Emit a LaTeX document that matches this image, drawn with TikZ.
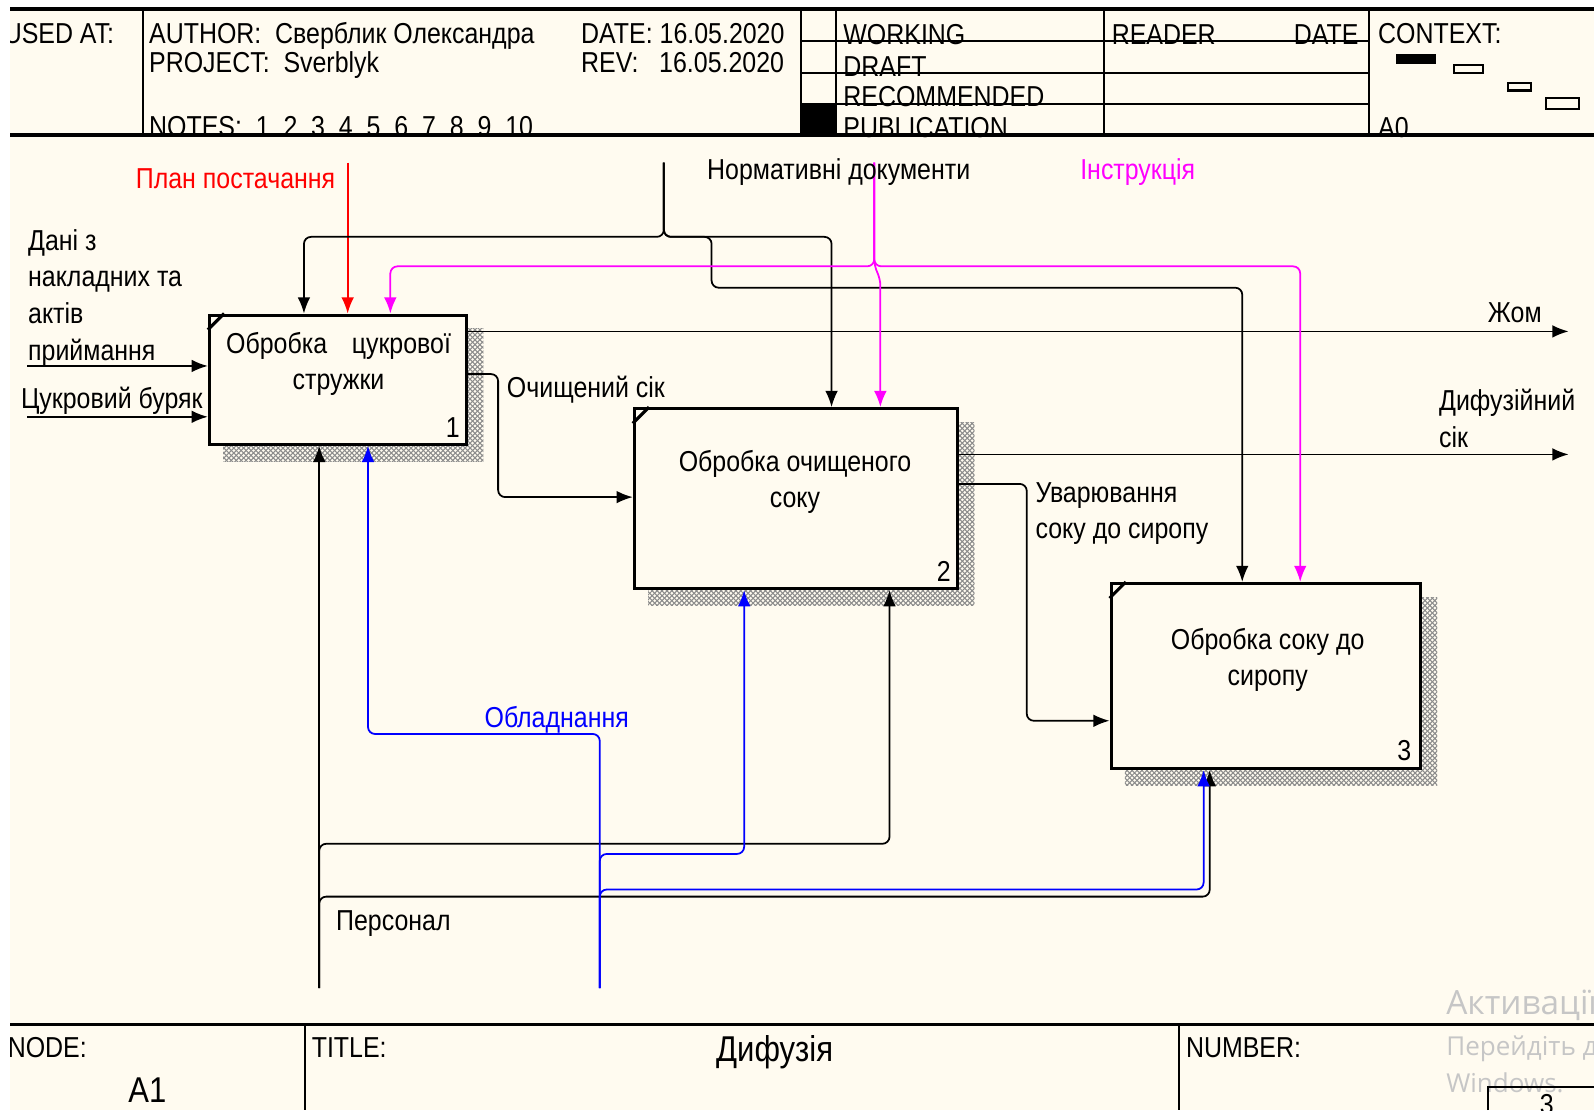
\documentclass[tikz,border=0pt]{standalone}
\usepackage{fontspec}
\setmainfont{Liberation Sans}[FakeStretch=0.865]
\newfontfamily\wmfont{Open Sans}
\usetikzlibrary{arrows.meta,patterns}
\definecolor{paper}{RGB}{255,251,240}
\definecolor{wmgray}{RGB}{198,198,198}
\definecolor{instrcol}{RGB}{255,0,255}
\definecolor{equipcol}{RGB}{0,0,255}
\definecolor{plancol}{RGB}{255,0,0}
\newlength\pxu \setlength\pxu{0.010166cm}
\newcommand\lbl{\fontsize{8.2pt}{10.4pt}\selectfont}
\newcommand\ttl{\fontsize{10.2pt}{12pt}\selectfont}
\pgfdeclarepatternformonly{finehatch}{\pgfqpoint{-0.2pt}{-0.2pt}}{\pgfqpoint{1.6pt}{1.6pt}}{\pgfqpoint{1.4pt}{1.4pt}}{%
  \pgfsetlinewidth{0.3pt}
  \pgfpathmoveto{\pgfqpoint{0pt}{0pt}}\pgfpathlineto{\pgfqpoint{1.4pt}{1.4pt}}
  \pgfpathmoveto{\pgfqpoint{0pt}{1.4pt}}\pgfpathlineto{\pgfqpoint{1.4pt}{0pt}}
  \pgfusepath{stroke}}
\pgfdeclarelayer{bg}
\pgfsetlayers{bg,main}

\begin{document}
\begin{tikzpicture}[x=0.010166cm,y=-0.010166cm,>={Latex[length=4.6pt,width=3.6pt]}]
  \tikzset{
    proc/.style={draw,line width=0.9pt,fill=paper,inner sep=0pt},
    flow/.style={line width=0.5pt,rounded corners=2pt,->},
    rule/.style={line width=0.6pt},
    lab/.style={font=\lbl,inner sep=0pt,anchor=base west},
    multi/.style={font=\lbl,inner sep=0pt,anchor=north west,align=left},
    shade/.style={pattern=finehatch,pattern color=black!45},
    wm/.style={font=\wmfont,text=wmgray,inner sep=0pt,anchor=base west}
  }
  \useasboundingbox (0,0) rectangle (1568,1092);
  \begin{pgfonlayer}{bg}
    \fill[white] (0,0) rectangle (1568,1092);
    \fill[paper] (10,8) rectangle (1568,1092);
  \end{pgfonlayer}

  % header
  \begin{scope}
    \clip (10,8) rectangle (1568,1092);
    \node[lab] (usedat) at (3,43) {USED AT:};
    \node[lab] (nodelbl) at (7,1040) {NODE:};
  \end{scope}
  \node[lab] (author) at (146,43) {AUTHOR:\ \ Сверблик Олександра};
  \node[lab] (project) at (146,71) {PROJECT:\ \ Sverblyk};
  \node[lab] (date) at (571,43) {DATE:\ 16.05.2020};
  \node[lab] (rev) at (571,71) {REV:\ \ \ 16.05.2020};
  \node[lab] (notes) at (146,134) {NOTES:\ \ 1\ \ 2\ \ 3\ \ 4\ \ 5\ \ 6\ \ 7\ \ 8\ \ 9\ \ 10};
  \node[lab] (working) at (829,44) {WORKING};
  \node[lab] (draft) at (829,75) {DRAFT};
  \node[lab] (recom) at (829,105) {RECOMMENDED};
  \node[lab] (public) at (829,135) {PUBLICATION};
  \node[lab] (reader) at (1093,44) {READER};
  \node[lab,anchor=base east] (rdate) at (1337,44) {DATE};
  \node[lab] (context) at (1355,43) {CONTEXT:};
  \node[lab] (azero) at (1355,135) {A0};
  \fill (1373,53) rectangle (1413,63);
  \draw[line width=0.6pt] (1430,64) rectangle (1459,72);
  \draw[line width=0.6pt] (1483,82) rectangle (1506,89);
  \draw[line width=0.6pt] (1521,96) rectangle (1553,107);
  \fill (788,102) rectangle (822,133);
  \draw[line width=1pt] (10,9) -- (1568,9);
  \draw[line width=1pt] (10,133) -- (1568,133);
  \foreach \xx in {141,788,822,1086,1347}
    \draw[rule] (\xx,9) -- (\xx,133);
  \foreach \yy in {40,72,102}
    \draw[rule] (788,\yy) -- (1347,\yy);

  % footer
  \draw[line width=1pt] (10,1008) -- (1568,1008);
  \draw[rule] (300,1008) -- (300,1092);
  \draw[rule] (1160,1008) -- (1160,1092);
  \node[lab] (titlelbl) at (306,1040) {TITLE:};
  \node[lab] (numlbl) at (1166,1040) {NUMBER:};
  \node[font=\ttl,inner sep=0pt,anchor=base] (nodeid) at (145,1085) {A1};
  \node[font=\ttl,inner sep=0pt,anchor=base] (title) at (762,1044) {Дифузія};

  % activities
  \node[proc,minimum width=253\pxu,minimum height=127\pxu] (b1) at (332.5,373.5) {};
  \node[proc,minimum width=318\pxu,minimum height=177\pxu] (b2) at (783,490.5) {};
  \node[proc,minimum width=304\pxu,minimum height=182\pxu] (b3) at (1245,665) {};
  \begin{pgfonlayer}{bg}
    \foreach \bx in {b1,b2,b3}
      \fill[shade] ([shift={(15,15)}]\bx.north west) rectangle ([shift={(15,15)}]\bx.south east);
  \end{pgfonlayer}
  \foreach \bx in {b1,b2,b3}
    \draw[line width=0.9pt] ([shift={(0,16)}]\bx.north west) -- ([shift={(16,0)}]\bx.north west);
  \node[font=\lbl,align=center,inner sep=0pt] (t1) at (333,358) {Обробка\hspace{7pt}цукрової\\стружки};
  \node[font=\lbl,align=center,inner sep=0pt] (t2) at (782,474) {Обробка очищеного\\соку};
  \node[font=\lbl,align=center,inner sep=0pt] (t3) at (1247,649) {Обробка соку до\\сиропу};
  \node[lab,anchor=base east] (n1) at (453,430) {1};
  \node[lab,anchor=base east] (n2) at (936,572) {2};
  \node[lab,anchor=base east] (n3) at (1389,748) {3};

  % inputs and outputs
  \coordinate (inA) at (27,360);
  \coordinate (inB) at (27,410);
  \coordinate (outA) at (1543,326);
  \coordinate (outB) at (1543,447);
  \draw[flow] (inA) -- (inA -| b1.west);
  \draw[flow] (inB) -- (inB -| b1.west);
  \draw[flow] (b1.east |- outA) -- (outA);
  \draw[flow] (b2.east |- outB) -- (outB);
  \draw[flow] (b1.east |- 0,368) -- (490,368) -- (490,489) -- (b2.west |- 0,489);
  \draw[flow] (b2.east |- 0,476) -- (1010,476) -- (1010,709) -- (b3.west |- 0,709);

  % controls
  \coordinate (plan) at (342,160);
  \coordinate (norm) at (653,160);
  \coordinate (instr) at (860,160);
  \draw[flow,plancol] (plan) -- (b1.north -| plan);
  \draw[flow] (norm) -- (653,233) -- (299,233) -- (b1.north -| 299,0);
  \draw[flow] (norm) -- (653,233) -- (818,233) -- (b2.north -| 818,0);
  \draw[flow] (norm) -- (653,233) -- (700,233) -- (700,283) -- (1222,283) -- (b3.north -| 1222,0);
  \draw[flow,instrcol] (instr) -- (860,262) -- (384,262) -- (b1.north -| 384,0);
  \draw[flow,instrcol] (instr) -- (860,262) -- (1279,262) -- (b3.north -| 1279,0);
  \draw[flow,instrcol] (instr) -- (860,262) -- (866,274) -- (b2.north -| 866,0);

  % mechanisms
  \coordinate (pers) at (314,972);
  \coordinate (equip) at (590,972);
  \draw[flow] (pers) -- (b1.south -| pers);
  \draw[flow] (pers) -- (314,830) -- (875,830) -- (b2.south -| 875,0);
  \draw[flow] (pers) -- (314,882) -- (1190,882) -- (b3.south -| 1190,0);
  \draw[flow,equipcol] (equip) -- (590,722) -- (362,722) -- (b1.south -| 362,0);
  \draw[flow,equipcol] (equip) -- (590,840) -- (732,840) -- (b2.south -| 732,0);
  \draw[flow,equipcol] (equip) -- (590,875) -- (1184,875) -- (b3.south -| 1184,0);

  % arrow labels
  \node[lab,text=plancol] (planlbl) at (133,185) {План постачання};
  \node[lab] (normlbl) at (695,177) {Нормативні документи};
  \node[lab,text=instrcol] (instrlbl) at (1062,177) {Інструкція};
  \node[multi] (inAlbl) at (27,225) {Дані з\\накладних та\\актів\\приймання};
  \node[lab] (inBlbl) at (20,402) {Цукровий буряк};
  \node[lab] (outAlbl) at (1463,317) {Жом};
  \node[multi] (outBlbl) at (1415,382) {Дифузійний\\сік};
  \node[lab] (cleanlbl) at (498,391) {Очищений сік};
  \node[multi] (boillbl) at (1018,474) {Уварювання\\соку до сиропу};
  \node[lab,text=equipcol] (equiplbl) at (476,716) {Обладнання};
  \node[lab] (perslbl) at (330,915) {Персонал};

  % overlay at bottom right
  \node[wm,font=\wmfont\fontsize{9.5pt}{11pt}\selectfont] (wm1) at (1422,998) {Активації};
  \node[wm,font=\wmfont\fontsize{7.4pt}{9pt}\selectfont] (wm2) at (1422,1038) {Перейдіть до};
  \node[wm,font=\wmfont\fontsize{7.4pt}{9pt}\selectfont] (wm3) at (1422,1075) {Windows.};
  \draw[rule] (1464,1092) -- (1464,1069) -- (1568,1069);
  \node[lab] (sheet) at (1514,1096) {3};
\end{tikzpicture}
\end{document}
